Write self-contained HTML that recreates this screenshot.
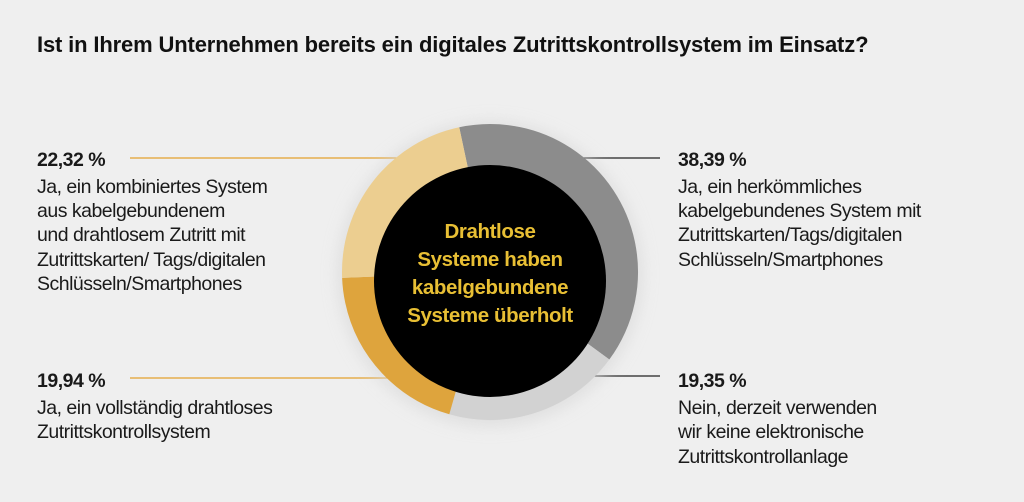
<!DOCTYPE html>
<html><head><meta charset="utf-8"><style>
body{margin:0;width:1024px;height:502px;background:#efefef;overflow:hidden;font-family:"Liberation Sans",sans-serif;}
svg{position:absolute;left:0;top:0}
</style></head><body>
<svg width="1024" height="502" viewBox="0 0 1024 502">
<defs><filter id="sh" x="-30%" y="-30%" width="160%" height="160%"><feGaussianBlur stdDeviation="8"/></filter></defs>
<text x="37" y="52" font-size="22" font-weight="bold" fill="#111" letter-spacing="-0.15">Ist in Ihrem Unternehmen bereits ein digitales Zutrittskontrollsystem im Einsatz?</text>
<line x1="130" y1="158" x2="400" y2="158" stroke="#e3a12c" stroke-width="1.3"/>
<line x1="130" y1="378" x2="400" y2="378" stroke="#e3a12c" stroke-width="1.3"/>
<line x1="580" y1="158" x2="660" y2="158" stroke="#222" stroke-width="1.3"/>
<line x1="590" y1="376" x2="660" y2="376" stroke="#222" stroke-width="1.3"/>
<circle cx="490" cy="274" r="152" fill="#d8d8d8" filter="url(#sh)" opacity="0.7"/>
<g transform="rotate(-102 490 272)" fill="none" stroke-width="48">
<circle cx="490" cy="272" r="124" stroke="#8c8c8c" stroke-dasharray="299.1 1000"/>
<circle cx="490" cy="272" r="124" stroke="#d2d2d2" stroke-dasharray="0 299.1 150.8 1000"/>
<circle cx="490" cy="272" r="124" stroke="#dea43d" stroke-dasharray="0 449.9 155.3 1000"/>
<circle cx="490" cy="272" r="124" stroke="#ecce90" stroke-dasharray="0 605.2 174 1000"/>
</g>
<circle cx="490" cy="281" r="116" fill="#000"/>
<g font-size="20.5" font-weight="bold" fill="#e8bf34" text-anchor="middle" letter-spacing="-0.4">
<text x="490" y="238">Drahtlose</text>
<text x="490" y="266">Systeme haben</text>
<text x="490" y="294">kabelgebundene</text>
<text x="490" y="322">Systeme überholt</text>
</g>
<g font-size="19.5" fill="#1a1a1a" letter-spacing="-0.5">
<text x="37" y="166" font-weight="bold">22,32 %</text>
<text x="37" y="193">Ja, ein kombiniertes System</text>
<text x="37" y="217">aus kabelgebundenem</text>
<text x="37" y="241">und drahtlosem Zutritt mit</text>
<text x="37" y="266">Zutrittskarten/ Tags/digitalen</text>
<text x="37" y="290">Schlüsseln/Smartphones</text>
<text x="37" y="387" font-weight="bold">19,94 %</text>
<text x="37" y="414">Ja, ein vollständig drahtloses</text>
<text x="37" y="438">Zutrittskontrollsystem</text>
<text x="678" y="166" font-weight="bold">38,39 %</text>
<text x="678" y="193">Ja, ein herkömmliches</text>
<text x="678" y="217">kabelgebundenes System mit</text>
<text x="678" y="241">Zutrittskarten/Tags/digitalen</text>
<text x="678" y="266">Schlüsseln/Smartphones</text>
<text x="678" y="387" font-weight="bold">19,35 %</text>
<text x="678" y="414">Nein, derzeit verwenden</text>
<text x="678" y="438">wir keine elektronische</text>
<text x="678" y="463">Zutrittskontrollanlage</text>
</g>
</svg>
</body></html>
